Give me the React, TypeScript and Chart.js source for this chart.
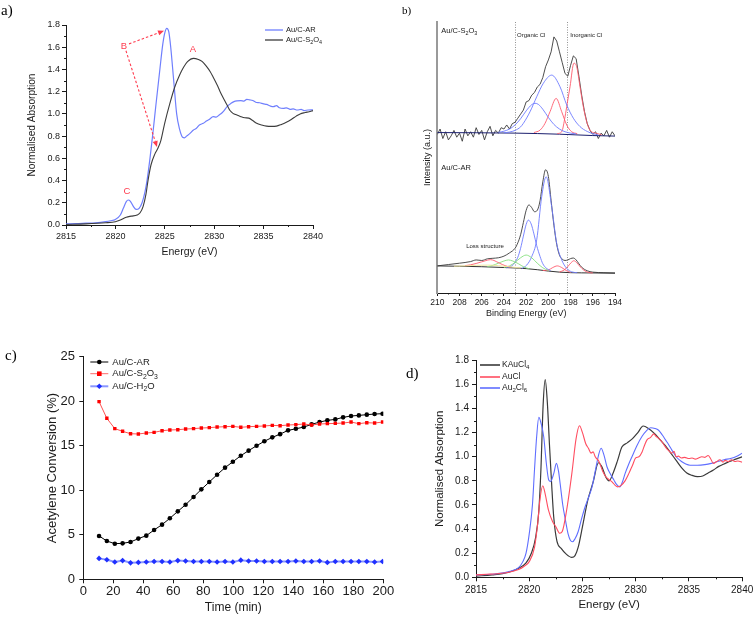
import React, { useEffect, useRef } from "react";
import { Chart, registerables } from "chart.js";

Chart.register(...registerables);

const SANS = "'Liberation Sans', Arial, Helvetica, sans-serif";
const SERIF = "'Liberation Serif', 'Times New Roman', serif";
const INK = "#1a1a1a";

// ---------------- a) XANES Au/C-AR vs Au/C-S2O4 ----------------
const aEnergyAR = [2815, 2816, 2817, 2818, 2819, 2819.5, 2820, 2820.5, 2820.8, 2821.1, 2821.3, 2821.5, 2821.8, 2822.1, 2822.4, 2822.7, 2823.0, 2823.2, 2823.5, 2823.8, 2824.1, 2824.5, 2824.8, 2825.0, 2825.2, 2825.4, 2825.6, 2825.9, 2826.2, 2826.5, 2826.8, 2827.0, 2827.2, 2827.5, 2827.9, 2828.2, 2828.5, 2828.9, 2829.2, 2829.5, 2829.9, 2830.2, 2830.5, 2830.8, 2831.0, 2831.3, 2831.7, 2832.0, 2832.3, 2832.7, 2833.0, 2833.3, 2833.6, 2833.9, 2834.2, 2834.6, 2835.0, 2835.3, 2835.7, 2836.0, 2836.3, 2836.6, 2837.0, 2837.3, 2837.7, 2838.0, 2838.4, 2838.8, 2839.1, 2839.5, 2840];
const aAbsAR = [0.01, 0.012, 0.016, 0.02, 0.03, 0.038, 0.05, 0.09, 0.15, 0.21, 0.225, 0.215, 0.17, 0.14, 0.15, 0.2, 0.3, 0.4, 0.6, 0.83, 1.08, 1.4, 1.63, 1.73, 1.77, 1.74, 1.6, 1.3, 1.0, 0.86, 0.79, 0.785, 0.8, 0.82, 0.855, 0.87, 0.9, 0.915, 0.935, 0.95, 0.975, 0.97, 0.99, 1.01, 1.03, 1.066, 1.095, 1.11, 1.117, 1.12, 1.115, 1.13, 1.126, 1.12, 1.105, 1.1, 1.09, 1.085, 1.07, 1.065, 1.075, 1.055, 1.05, 1.055, 1.04, 1.045, 1.035, 1.04, 1.03, 1.035, 1.036];
const aEnergyS2O4 = [2815, 2817, 2819, 2820, 2820.5, 2821.1, 2821.6, 2822.2, 2822.5, 2822.8, 2823.1, 2823.3, 2823.6, 2824.0, 2824.3, 2824.6, 2825.0, 2825.5, 2826.0, 2826.5, 2826.9, 2827.3, 2827.9, 2828.4, 2828.8, 2829.2, 2829.6, 2829.9, 2830.3, 2830.6, 2831.0, 2831.3, 2831.6, 2831.9, 2832.3, 2832.7, 2833.1, 2833.5, 2833.9, 2834.3, 2834.8, 2835.3, 2835.8, 2836.3, 2836.8, 2837.3, 2837.8, 2838.3, 2838.7, 2839.2, 2839.6, 2840];
const aAbsS2O4 = [0.005, 0.01, 0.02, 0.03, 0.045, 0.07, 0.08, 0.09, 0.11, 0.165, 0.28, 0.4, 0.54, 0.64, 0.69, 0.76, 0.92, 1.09, 1.24, 1.35, 1.42, 1.47, 1.5, 1.49, 1.47, 1.43, 1.38, 1.33, 1.26, 1.2, 1.13, 1.08, 1.03, 1.005, 0.99, 0.975, 0.965, 0.962, 0.94, 0.915, 0.9, 0.89, 0.888, 0.89, 0.905, 0.925, 0.95, 0.98, 1.0, 1.012, 1.02, 1.03];
const aNoteText = ["A", "B", "C"];
const aNoteE = [2827.85, 2820.87, 2821.17];
const aNoteV = [1.577, 1.61, 0.306];
const aArrowFromE = [2821.38, 2821.07];
const aArrowFromV = [1.63, 1.568];
const aArrowToE = [2824.92, 2824.21];
const aArrowToV = [1.748, 0.703];

// ---------------- b) XPS Cl 2p ----------------
const bTopBE = [210, 209.75, 209.5, 209.25, 209, 208.75, 208.5, 208.25, 208, 207.75, 207.5, 207.25, 207, 206.75, 206.5, 206.25, 206, 205.75, 205.5, 205.25, 205, 204.75, 204.5, 204.25, 204, 203.75, 203.5, 203.25, 203, 202.75, 202.5, 202.25, 202, 201.75, 201.5, 201.25, 201, 200.75, 200.5, 200.25, 200, 199.75, 199.5, 199.25, 199, 198.75, 198.5, 198.25, 198, 197.75, 197.5, 197.25, 197, 196.75, 196.5, 196.25, 196, 195.75, 195.5, 195.25, 195, 194.75, 194.5, 194.25, 194];
const bTopI = [58.5, 60.5, 57, 59.5, 56.5, 58, 60, 57.5, 59, 56, 60.5, 58, 59.5, 57.5, 61, 58.5, 60, 56.5, 59.5, 61.5, 58, 60, 59, 61, 60.5, 62, 60.5, 62.5, 63, 64.5, 66, 67.5, 70.5, 71, 73, 74, 76, 77, 79.5, 83.5, 86, 89, 94.5, 93, 89, 85, 81, 80, 84, 87.5, 86.5, 80, 73, 67, 62.5, 60, 58.5, 59.5, 57, 59, 58, 60, 57.5, 59.5, 58];
const bTopBaseBE = [210, 203, 199, 196, 194];
const bTopBaseI = [59.2, 59.0, 58.6, 58.1, 57.9];
const bTopBlue1BE = [204.5, 204, 203.5, 203, 202.5, 202, 201.5, 201.2, 200.9, 200.5, 200, 199.5, 199, 198.5, 198, 197.5];
const bTopBlue1I = [59.3, 59.7, 60.5, 62, 64.3, 67.2, 69.5, 70, 69.6, 67.8, 64.8, 62.2, 60.5, 59.5, 59, 58.7];
const bTopBlue2BE = [204, 203.5, 203, 202.5, 202.25, 201.65, 201.05, 200.45, 199.7, 198.95, 198.35, 197.75, 197.15, 196.5, 196, 195.5];
const bTopBlue2I = [59.1, 59.4, 60.0, 61.3, 62.6, 66.9, 72.4, 77.4, 80.4, 76.1, 69.4, 64.5, 61.4, 59.6, 58.8, 58.3];
const bTopRed1BE = [201.3, 200.75, 200.3, 199.85, 199.3, 198.8, 198.35, 197.9, 197.4];
const bTopRed1I = [59.2, 60.1, 62.6, 66.9, 71.8, 66.9, 62, 59.5, 58.8];
const bTopRed2BE = [199.2, 198.8, 198.5, 198.3, 198.05, 197.7, 197.45, 197.15, 196.85, 196.55, 196.25, 195.65, 195.2];
const bTopRed2I = [58.8, 59.5, 65, 70, 76.1, 84.8, 83.5, 76.1, 68.7, 63.2, 60.1, 58.9, 58.4];

const bBotBE = [210, 209, 208, 207, 206.5, 206, 205.5, 205, 204.5, 204, 203.5, 203, 202.75, 202.5, 202.25, 202, 201.75, 201.5, 201.25, 201, 200.75, 200.5, 200.25, 200, 199.75, 199.5, 199.25, 199, 198.75, 198.5, 198.25, 198, 197.75, 197.5, 197.25, 197, 196.5, 196, 195, 194];
const bBotI = [10, 10.5, 11, 11.6, 12.2, 12, 12.6, 12.8, 13, 13.6, 14.8, 16.5, 18.5, 21.5, 26, 30.5, 32.5, 31.5, 30, 30.5, 34, 41, 45.5, 43, 34, 25, 18, 14, 12.5, 12, 12.2, 12.7, 12.9, 12.2, 10.8, 9.5, 8.2, 7.7, 7.5, 7.4];
const bBotBaseBE = [210, 206, 204, 202, 201, 200, 199, 198, 196, 194];
const bBotBaseI = [10, 9.7, 9.4, 9.0, 8.6, 8.1, 7.7, 7.5, 7.4, 7.3];
const bBotBlue1BE = [203.8, 203.3, 203.0, 202.75, 202.5, 202.25, 202.0, 201.8, 201.55, 201.3, 201.05, 200.75, 200.5, 200.2, 199.8];
const bBotBlue1I = [9.3, 10, 11.3, 13.2, 16.5, 21, 25.3, 26.9, 25.5, 21.8, 17.5, 13.5, 10.8, 9.2, 8.3];
const bBotBlue2BE = [202.4, 201.95, 201.5, 201.05, 200.6, 200.2, 199.7, 199.25, 198.8, 198.35, 197.9, 197.4];
const bBotBlue2I = [9.0, 10.3, 13.4, 19.6, 35.5, 42.9, 31.8, 18.3, 12.2, 9.1, 7.8, 7.5];
const bBotGreen1BE = [204, 203.5, 203, 202.5, 202, 201.5, 201, 200.5, 200];
const bBotGreen1I = [9.4, 10, 11.3, 13, 14, 13, 11, 9.3, 8.3];
const bBotGreen2BE = [205.5, 205, 204.5, 204, 203.6, 203.2, 202.7, 202.2, 201.7];
const bBotGreen2I = [9.7, 10.2, 11, 11.8, 12.2, 11.8, 10.8, 9.6, 8.9];
const bBotYellowBE = [208.5, 207.5, 206.5, 205.5, 204.5, 203.5, 202.5];
const bBotYellowI = [9.9, 10.0, 10.2, 10.3, 10.1, 9.7, 9.2];
const bBotRedLossBE = [207.5, 207, 206.5, 206, 205.5, 205.2, 204.9, 204.4, 203.9, 203.4];
const bBotRedLossI = [10.1, 10.4, 10.9, 11.5, 12.1, 12.3, 12.0, 11.0, 10.1, 9.5];
const bBotRed1BE = [200.5, 200, 199.6, 199.2, 198.8, 198.4, 198];
const bBotRed1I = [8.3, 8.5, 9.4, 10, 9.4, 8.3, 7.6];
const bBotRed2BE = [199, 198.6, 198.2, 197.95, 197.7, 197.45, 197.2, 196.8, 196.4, 196];
const bBotRed2I = [7.8, 8.4, 10, 11.2, 11.9, 11.2, 10, 8.4, 7.6, 7.4];
const bDividers = [203, 198.3];

// ---------------- c) Acetylene conversion ----------------
const cTime = [10.5, 15.7, 21, 26.2, 31.5, 36.7, 42, 47.2, 52.5, 57.7, 63, 68.2, 73.5, 78.7, 84, 89.2, 94.5, 99.7, 105, 110.2, 115.5, 120.7, 126, 131.2, 136.5, 141.7, 147, 152.2, 157.5, 162.7, 168, 173.2, 178.5, 183.7, 189, 194.2, 199.5];
const cAR = [4.87, 4.3, 4.0, 4.04, 4.19, 4.57, 4.9, 5.54, 6.14, 6.85, 7.63, 8.38, 9.24, 10.1, 10.93, 11.75, 12.54, 13.2, 13.88, 14.45, 15.0, 15.5, 15.94, 16.3, 16.73, 16.9, 17.1, 17.4, 17.66, 17.85, 17.96, 18.19, 18.34, 18.41, 18.49, 18.56, 18.6];
const cS2O3 = [19.95, 18.08, 16.92, 16.62, 16.35, 16.32, 16.43, 16.5, 16.69, 16.77, 16.8, 16.88, 16.92, 16.99, 17.03, 17.1, 17.14, 17.18, 17.07, 17.14, 17.18, 17.22, 17.29, 17.25, 17.33, 17.37, 17.44, 17.33, 17.44, 17.48, 17.51, 17.55, 17.66, 17.48, 17.59, 17.55, 17.66];
const cH2O = [2.35, 2.2, 1.95, 2.1, 1.85, 1.9, 1.95, 2.0, 2.0, 1.95, 2.1, 2.05, 2.0, 2.0, 2.0, 1.95, 2.0, 1.95, 2.15, 2.05, 2.05, 2.0, 2.0, 2.0, 2.0, 2.05, 2.0, 2.0, 2.05, 1.9, 2.0, 2.0, 2.0, 2.0, 2.0, 1.95, 2.0];

// ---------------- d) reference compounds ----------------
const dEnergyK = [2815, 2816.5, 2818, 2819, 2819.7, 2820.2, 2820.6, 2820.9, 2821.1, 2821.3, 2821.5, 2821.7, 2821.9, 2822.1, 2822.3, 2822.6, 2823.0, 2823.5, 2824.0, 2824.3, 2824.6, 2825.0, 2825.5, 2826.0, 2826.5, 2826.8, 2827.2, 2827.5, 2827.9, 2828.3, 2828.7, 2829.2, 2829.7, 2830.2, 2830.7, 2831.2, 2831.8, 2832.3, 2832.8, 2833.3, 2833.8, 2834.3, 2834.8, 2835.3, 2835.8, 2836.3, 2836.8, 2837.3, 2837.8, 2838.3, 2838.8, 2839.4, 2840];
const dAbsK = [0.01, 0.02, 0.04, 0.075, 0.12, 0.2, 0.33, 0.55, 0.9, 1.42, 1.64, 1.45, 1.1, 0.78, 0.5, 0.3, 0.24, 0.19, 0.165, 0.18, 0.25, 0.42, 0.64, 0.79, 0.95, 0.92, 0.83, 0.8, 0.87, 0.97, 1.08, 1.115, 1.15, 1.2, 1.255, 1.235, 1.19, 1.14, 1.09, 1.03, 0.97, 0.91, 0.865, 0.845, 0.835, 0.84, 0.865, 0.89, 0.92, 0.94, 0.96, 0.98, 1.0];
const dEnergyAuCl = [2815, 2816, 2817, 2818, 2819, 2819.5, 2820, 2820.5, 2820.8, 2821.0, 2821.27, 2821.5, 2821.8, 2822.2, 2822.5, 2822.86, 2823.1, 2823.5, 2824.0, 2824.4, 2824.72, 2825.0, 2825.3, 2825.56, 2825.8, 2826.0, 2826.2, 2826.55, 2826.9, 2827.2, 2827.5, 2827.8, 2828.1, 2828.3, 2828.6, 2829.0, 2829.35, 2829.7, 2830.0, 2830.3, 2830.6, 2830.85, 2831.06, 2831.4, 2831.7, 2831.9, 2832.2, 2832.5, 2832.8, 2833.1, 2833.4, 2833.6, 2833.8, 2834.0, 2834.3, 2834.6, 2835.0, 2835.3, 2835.6, 2835.9, 2836.2, 2836.5, 2836.8, 2837.0, 2837.3, 2837.6, 2837.9, 2838.2, 2838.4, 2838.7, 2839.0, 2839.3, 2839.6, 2840];
const dAbsAuCl = [0.02, 0.025, 0.03, 0.04, 0.065, 0.09, 0.13, 0.25, 0.45, 0.64, 0.76, 0.69, 0.56, 0.46, 0.42, 0.365, 0.38, 0.55, 0.86, 1.15, 1.257, 1.2, 1.11, 1.07, 1.03, 1.04, 1.0, 0.96, 0.88, 0.834, 0.81, 0.79, 0.76, 0.75, 0.76, 0.8, 0.86, 0.93, 0.99, 1.0, 1.04, 1.1, 1.14, 1.16, 1.19, 1.17, 1.15, 1.12, 1.08, 1.05, 1.03, 1.045, 1.0, 1.005, 0.99, 0.995, 0.985, 0.99, 0.98, 0.99, 1.0, 0.995, 1.01, 0.99, 0.945, 0.96, 0.975, 0.955, 0.97, 0.96, 0.975, 0.96, 0.965, 0.955];
const dEnergyAu2Cl6 = [2815, 2816.5, 2818, 2819, 2819.4, 2819.7, 2820.0, 2820.3, 2820.5, 2820.7, 2820.9, 2821.1, 2821.36, 2821.6, 2821.83, 2822.0, 2822.3, 2822.55, 2822.75, 2822.9, 2823.15, 2823.4, 2823.65, 2823.85, 2824.07, 2824.3, 2824.6, 2824.9, 2825.25, 2825.6, 2825.9, 2826.2, 2826.5, 2826.75, 2827.0, 2827.3, 2827.6, 2827.95, 2828.2, 2828.5, 2828.75, 2829.0, 2829.35, 2829.7, 2830.1, 2830.6, 2831.0, 2831.4, 2831.8, 2832.15, 2832.5, 2832.8, 2833.1, 2833.4, 2833.8, 2834.3, 2834.7, 2835.1, 2835.8, 2836.5, 2837.1, 2837.7, 2838.3, 2838.98, 2839.5, 2840];
const dAbsAu2Cl6 = [0.02, 0.025, 0.045, 0.08, 0.13, 0.2, 0.36, 0.6, 0.9, 1.17, 1.327, 1.28, 1.166, 0.95, 0.807, 0.795, 0.86, 0.945, 0.88, 0.78, 0.6, 0.475, 0.36, 0.31, 0.295, 0.32, 0.38, 0.48, 0.585, 0.67, 0.75, 0.88, 1.01, 1.07, 1.02, 0.917, 0.86, 0.807, 0.77, 0.75, 0.79, 0.86, 0.94, 1.01, 1.09, 1.17, 1.215, 1.24, 1.235, 1.22, 1.18, 1.14, 1.1, 1.055, 1.0, 0.96, 0.94, 0.93, 0.93, 0.935, 0.945, 0.96, 0.975, 0.987, 1.005, 1.03];

// ---------------- helpers ----------------
const pts = (xs: number[], ys: number[]) => xs.map((x, i) => ({ x, y: ys[i] }));

type Seg = [string, boolean?];
function drawRich(ctx: CanvasRenderingContext2D, x: number, y: number, segs: Seg[], size: number, color: string, align: "left" | "center" = "left") {
  ctx.save();
  ctx.fillStyle = color;
  ctx.textBaseline = "middle";
  ctx.textAlign = "left";
  const fontOf = (sub?: boolean) => `${sub ? size * 0.72 : size}px ${SANS}`;
  let w = 0;
  for (const [t, sub] of segs) { ctx.font = fontOf(sub); w += ctx.measureText(t).width; }
  let cx = align === "center" ? x - w / 2 : x;
  for (const [t, sub] of segs) {
    ctx.font = fontOf(sub);
    ctx.fillText(t, cx, sub ? y + size * 0.32 : y);
    cx += ctx.measureText(t).width;
  }
  ctx.restore();
}

function drawMinor(chart: any, axes: ("x" | "y")[], len: number) {
  const { ctx, chartArea: a } = chart;
  ctx.save();
  ctx.strokeStyle = INK;
  ctx.lineWidth = 1;
  ctx.beginPath();
  for (const id of axes) {
    const s = chart.scales[id];
    const t = s.ticks.map((k: any) => k.value);
    for (let i = 0; i < t.length - 1; i++) {
      const p = s.getPixelForValue((t[i] + t[i + 1]) / 2);
      if (id === "x") { const px = Math.round(p) + 0.5; ctx.moveTo(px, a.bottom); ctx.lineTo(px, a.bottom + len); }
      else { const py = Math.round(p) + 0.5; ctx.moveTo(a.left, py); ctx.lineTo(a.left - len, py); }
    }
  }
  ctx.stroke();
  ctx.restore();
}

function dashedArrow(ctx: CanvasRenderingContext2D, x1: number, y1: number, x2: number, y2: number, color: string) {
  ctx.save();
  ctx.strokeStyle = color;
  ctx.fillStyle = color;
  ctx.lineWidth = 1.1;
  const ang = Math.atan2(y2 - y1, x2 - x1);
  const hl = 6, hw = 2.6;
  const bx = x2 - hl * Math.cos(ang), by = y2 - hl * Math.sin(ang);
  ctx.setLineDash([2.5, 2]);
  ctx.beginPath(); ctx.moveTo(x1, y1); ctx.lineTo(bx, by); ctx.stroke();
  ctx.setLineDash([]);
  ctx.beginPath();
  ctx.moveTo(x2, y2);
  ctx.lineTo(bx + hw * Math.sin(ang), by - hw * Math.cos(ang));
  ctx.lineTo(bx - hw * Math.sin(ang), by + hw * Math.cos(ang));
  ctx.closePath();
  ctx.fill();
  ctx.restore();
}

function legendLine(ctx: CanvasRenderingContext2D, x: number, y: number, len: number, color: string, lw: number) {
  ctx.save();
  ctx.strokeStyle = color;
  ctx.lineWidth = lw;
  ctx.beginPath(); ctx.moveTo(x, y); ctx.lineTo(x + len, y); ctx.stroke();
  ctx.restore();
}

function axis(p: {
  min: number; max: number; step: number; fontSize: number; pad: number; tickLen: number; size: number;
  horizontal: boolean; title: string; titleSize: number; reverse?: boolean; decimals?: number;
  hideTicks?: boolean; borderColor?: string; borderWidth?: number;
}): any {
  return {
    type: "linear",
    min: p.min,
    max: p.max,
    reverse: !!p.reverse,
    ticks: {
      display: !p.hideTicks, stepSize: p.step, font: { size: p.fontSize, family: SANS }, color: INK,
      padding: p.pad, maxRotation: 0, autoSkip: false,
      callback: (v: any) => (p.decimals != null ? Number(v).toFixed(p.decimals) : String(Math.round(Number(v) * 1000) / 1000)),
    },
    grid: { display: !p.hideTicks, drawOnChartArea: false, drawTicks: true, tickLength: p.tickLen, color: INK, lineWidth: 1 },
    border: { display: true, color: p.borderColor ?? INK, width: p.borderWidth ?? 1 },
    title: { display: true, text: p.title, font: { size: p.titleSize, family: SANS }, color: INK, padding: 0 },
    afterFit: (s: any) => { if (p.horizontal) s.height = p.size; else s.width = p.size; },
  };
}

const baseOpts = (padding: any) => ({
  responsive: false,
  animation: false,
  events: [],
  layout: { padding },
  plugins: { legend: { display: false }, tooltip: { enabled: false } },
});

const line = (data: any, color: string, width: number, extra: any = {}) => ({
  data, borderColor: color, borderWidth: width, pointRadius: 0, cubicInterpolationMode: "monotone", ...extra,
});

// ---------------- chart configs ----------------
const RED_NOTE = "#ff3b4e";

function cfgA(): any {
  const decor = {
    id: "decorA",
    afterDraw(chart: any) {
      const { ctx, chartArea: a, scales: { x, y } } = chart;
      drawMinor(chart, ["x", "y"], 2);
      const lx = a.right - 48;
      legendLine(ctx, lx, a.top + 5, 18, "#6f7ffd", 1.3);
      drawRich(ctx, lx + 21, a.top + 5, [["Au/C-AR"]], 7.5, INK);
      legendLine(ctx, lx, a.top + 15, 18, "#3c3c3c", 1.3);
      drawRich(ctx, lx + 21, a.top + 15, [["Au/C-S"], ["2", true], ["O"], ["4", true]], 7.5, INK);
      for (let i = 0; i < aArrowFromE.length; i++) {
        dashedArrow(ctx, x.getPixelForValue(aArrowFromE[i]), y.getPixelForValue(aArrowFromV[i]),
          x.getPixelForValue(aArrowToE[i]), y.getPixelForValue(aArrowToV[i]), RED_NOTE);
      }
      for (let i = 0; i < aNoteText.length; i++) {
        drawRich(ctx, x.getPixelForValue(aNoteE[i]), y.getPixelForValue(aNoteV[i]), [[aNoteText[i]]], 9.5, RED_NOTE, "center");
      }
    },
  };
  return {
    type: "line",
    data: {
      datasets: [
        line(pts(aEnergyS2O4, aAbsS2O4), "#3c3c3c", 1.1),
        line(pts(aEnergyAR, aAbsAR), "#6f7ffd", 1.2),
      ],
    },
    options: {
      ...baseOpts({ left: 26, right: 443, top: 25, bottom: 617 - 225 - 33 }),
      scales: {
        x: axis({ min: 2815, max: 2840, step: 5, fontSize: 9, pad: 2.6, tickLen: 4, size: 33, horizontal: true, title: "Energy (eV)", titleSize: 10.5 }),
        y: axis({ min: 0, max: 1.8, step: 0.2, fontSize: 9, pad: 2, tickLen: 4, size: 40, horizontal: false, title: "Normalised Absorption", titleSize: 10.2, decimals: 1 }),
      },
    },
    plugins: [decor],
  };
}

function cfgB(): any {
  const BLUE = "#6d7bff", RED = "#ff5a6c", GREEN = "#86e07e", YELLOW = "#efe59a";
  const decor = {
    id: "decorB",
    beforeDatasetsDraw(chart: any) {
      const { ctx, chartArea: a, scales: { x } } = chart;
      ctx.save();
      ctx.strokeStyle = "#777";
      ctx.lineWidth = 0.8;
      ctx.setLineDash([1, 1.5]);
      for (const be of bDividers) {
        const px = Math.round(x.getPixelForValue(be)) + 0.5;
        ctx.beginPath(); ctx.moveTo(px, a.top); ctx.lineTo(px, a.bottom); ctx.stroke();
      }
      ctx.restore();
    },
    afterDraw(chart: any) {
      const { ctx, chartArea: a, scales: { x, y } } = chart;
      drawMinor(chart, ["x"], 1.5);
      drawRich(ctx, a.left + 4, a.top + 9, [["Au/C-S"], ["2", true], ["O"], ["3", true]], 7.5, INK);
      drawRich(ctx, x.getPixelForValue(bDividers[0]) + 2, a.top + 13, [["Organic Cl"]], 6, INK);
      drawRich(ctx, x.getPixelForValue(bDividers[1]) + 3, a.top + 13, [["Inorganic Cl"]], 6, INK);
      drawRich(ctx, a.left + 4, a.top + 146, [["Au/C-AR"]], 7.5, INK);
      drawRich(ctx, x.getPixelForValue(207.4), y.getPixelForValue(17.3), [["Loss structure"]], 6, INK);
    },
  };
  return {
    type: "line",
    data: {
      datasets: [
        line(pts(bTopBlue1BE, bTopBlue1I), BLUE, 0.9),
        line(pts(bTopBlue2BE, bTopBlue2I), BLUE, 0.9),
        line(pts(bTopRed1BE, bTopRed1I), RED, 0.9),
        line(pts(bTopRed2BE, bTopRed2I), RED, 0.9),
        line(pts(bTopBaseBE, bTopBaseI), "#1b1f6e", 1),
        line(pts(bTopBE, bTopI), "#3a3a3a", 0.9, { cubicInterpolationMode: "default", tension: 0 }),
        line(pts(bBotYellowBE, bBotYellowI), YELLOW, 0.9),
        line(pts(bBotRedLossBE, bBotRedLossI), RED, 0.9),
        line(pts(bBotGreen2BE, bBotGreen2I), GREEN, 0.9),
        line(pts(bBotGreen1BE, bBotGreen1I), GREEN, 0.9),
        line(pts(bBotBlue1BE, bBotBlue1I), BLUE, 0.9),
        line(pts(bBotBlue2BE, bBotBlue2I), BLUE, 0.9),
        line(pts(bBotRed1BE, bBotRed1I), RED, 0.9),
        line(pts(bBotRed2BE, bBotRed2I), RED, 0.9),
        line(pts(bBotBaseBE, bBotBaseI), "#333", 1),
        line(pts(bBotBE, bBotI), "#3a3a3a", 0.9),
      ],
    },
    options: {
      ...baseOpts({ left: 422.3, right: 141, top: 22, bottom: 617 - 293 - 26.4 }),
      scales: {
        x: axis({ min: 194, max: 210, step: 2, fontSize: 8.5, pad: 1.2, tickLen: 3, size: 26.4, horizontal: true, title: "Binding Energy (eV)", titleSize: 9, reverse: true }),
        y: axis({ min: 0, max: 100, step: 10, fontSize: 8, pad: 2, tickLen: 3, size: 15, horizontal: false, title: "Intensity (a.u.)", titleSize: 9, hideTicks: true, borderColor: "#9a9a9a", borderWidth: 2 }),
      },
    },
    plugins: [decor],
  };
}

function cfgC(): any {
  const decor = {
    id: "decorC",
    afterDraw(chart: any) {
      const { ctx, chartArea: a } = chart;
      const lx = a.left + 7, len = 18, tx = a.left + 29;
      const rows = [a.top + 5.3, a.top + 17, a.top + 29.6];
      legendLine(ctx, lx, rows[0], len, "#000", 1);
      ctx.save(); ctx.fillStyle = "#000"; ctx.beginPath(); ctx.arc(lx + len / 2, rows[0], 2.3, 0, Math.PI * 2); ctx.fill(); ctx.restore();
      drawRich(ctx, tx, rows[0], [["Au/C-AR"]], 9.5, INK);
      legendLine(ctx, lx, rows[1], len, "#ff6a6a", 1);
      ctx.save(); ctx.fillStyle = "#ff0000"; ctx.fillRect(lx + len / 2 - 2.3, rows[1] - 2.3, 4.6, 4.6); ctx.restore();
      drawRich(ctx, tx, rows[1], [["Au/C-S"], ["2", true], ["O"], ["3", true]], 9.5, INK);
      legendLine(ctx, lx, rows[2], len, "#8a97ff", 2);
      ctx.save(); ctx.fillStyle = "#1f2fff"; ctx.beginPath();
      const cx = lx + len / 2, cy = rows[2];
      ctx.moveTo(cx, cy - 2.8); ctx.lineTo(cx + 2.8, cy); ctx.lineTo(cx, cy + 2.8); ctx.lineTo(cx - 2.8, cy); ctx.closePath(); ctx.fill(); ctx.restore();
      drawRich(ctx, tx, rows[2], [["Au/C-H"], ["2", true], ["O"]], 9.5, INK);
    },
  };
  return {
    type: "line",
    data: {
      datasets: [
        { data: pts(cTime, cH2O), borderColor: "#8a97ff", borderWidth: 2, pointRadius: 2.8, pointStyle: "rectRot", pointBackgroundColor: "#1f2fff", pointBorderWidth: 0, tension: 0 },
        { data: pts(cTime, cS2O3), borderColor: "#ff5050", borderWidth: 1, pointRadius: 2.4, pointStyle: "rect", pointBackgroundColor: "#ff0000", pointBorderWidth: 0, tension: 0 },
        { data: pts(cTime, cAR), borderColor: "#000", borderWidth: 1, pointRadius: 2.3, pointStyle: "circle", pointBackgroundColor: "#000", pointBorderWidth: 0, tension: 0 },
      ],
    },
    options: {
      ...baseOpts({ left: 44.3, right: 372.7, top: 356.7, bottom: 617 - 579.3 - 36 }),
      scales: {
        x: axis({ min: 0, max: 200, step: 20, fontSize: 13, pad: 0.6, tickLen: 4, size: 36, horizontal: true, title: "Time (min)", titleSize: 12 }),
        y: axis({ min: 0, max: 25, step: 5, fontSize: 13, pad: 4.3, tickLen: 4, size: 39, horizontal: false, title: "Acetylene Conversion (%)", titleSize: 13 }),
      },
    },
    plugins: [decor],
  };
}

function cfgD(): any {
  const K = "#3a3a3a", R = "#ff4d60", B = "#5f6eff";
  const decor = {
    id: "decorD",
    afterDraw(chart: any) {
      const { ctx, chartArea: a } = chart;
      drawMinor(chart, ["x", "y"], 2);
      const lx = a.left + 4, len = 20, tx = a.left + 26;
      const rows = [a.top + 4.7, a.top + 16.7, a.top + 27.7];
      legendLine(ctx, lx, rows[0], len, K, 1.6);
      drawRich(ctx, tx, rows[0], [["KAuCl"], ["4", true]], 8.5, INK);
      legendLine(ctx, lx, rows[1], len, R, 1.6);
      drawRich(ctx, tx, rows[1], [["AuCl"]], 8.5, INK);
      legendLine(ctx, lx, rows[2], len, B, 1.6);
      drawRich(ctx, tx, rows[2], [["Au"], ["2", true], ["Cl"], ["6", true]], 8.5, INK);
    },
  };
  return {
    type: "line",
    data: {
      datasets: [
        line(pts(dEnergyAuCl, dAbsAuCl), R, 1.1),
        line(pts(dEnergyAu2Cl6, dAbsAu2Cl6), B, 1.1),
        line(pts(dEnergyK, dAbsK), K, 1.2),
      ],
    },
    options: {
      ...baseOpts({ left: 433, right: 11.7, top: 360.3, bottom: 617 - 577.3 - 34.6 }),
      scales: {
        x: axis({ min: 2815, max: 2840, step: 5, fontSize: 10, pad: 2.7, tickLen: 4, size: 34.6, horizontal: true, title: "Energy (eV)", titleSize: 11.5 }),
        y: axis({ min: 0, max: 1.8, step: 0.2, fontSize: 10, pad: 3, tickLen: 4, size: 43, horizontal: false, title: "Normalised Absorption", titleSize: 11.5, decimals: 1 }),
      },
    },
    plugins: [decor],
  };
}

const labelStyle = (left: number, top: number, size: number): React.CSSProperties => ({
  position: "absolute", left, top, fontFamily: SERIF, fontSize: size, lineHeight: 1, color: "#000",
});

export default function App() {
  const ra = useRef<HTMLCanvasElement>(null);
  const rb = useRef<HTMLCanvasElement>(null);
  const rc = useRef<HTMLCanvasElement>(null);
  const rd = useRef<HTMLCanvasElement>(null);

  useEffect(() => {
    const charts = [
      new Chart(ra.current!, cfgA()),
      new Chart(rb.current!, cfgB()),
      new Chart(rc.current!, cfgC()),
      new Chart(rd.current!, cfgD()),
    ];
    return () => charts.forEach((c) => c.destroy());
  }, []);

  const cv: React.CSSProperties = { position: "absolute", left: 0, top: 0, width: 756, height: 617 };
  return (
    <div style={{ position: "absolute", left: 0, top: 0, width: 756, height: 617, background: "#fff", overflow: "hidden" }}>
      <canvas ref={ra} width={756} height={617} style={cv} />
      <canvas ref={rb} width={756} height={617} style={cv} />
      <canvas ref={rc} width={756} height={617} style={cv} />
      <canvas ref={rd} width={756} height={617} style={cv} />
      <div style={labelStyle(1, 3, 15)}>a)</div>
      <div style={labelStyle(402, 5, 11)}>b)</div>
      <div style={labelStyle(5, 348, 15)}>c)</div>
      <div style={labelStyle(406, 366, 15)}>d)</div>
    </div>
  );
}
